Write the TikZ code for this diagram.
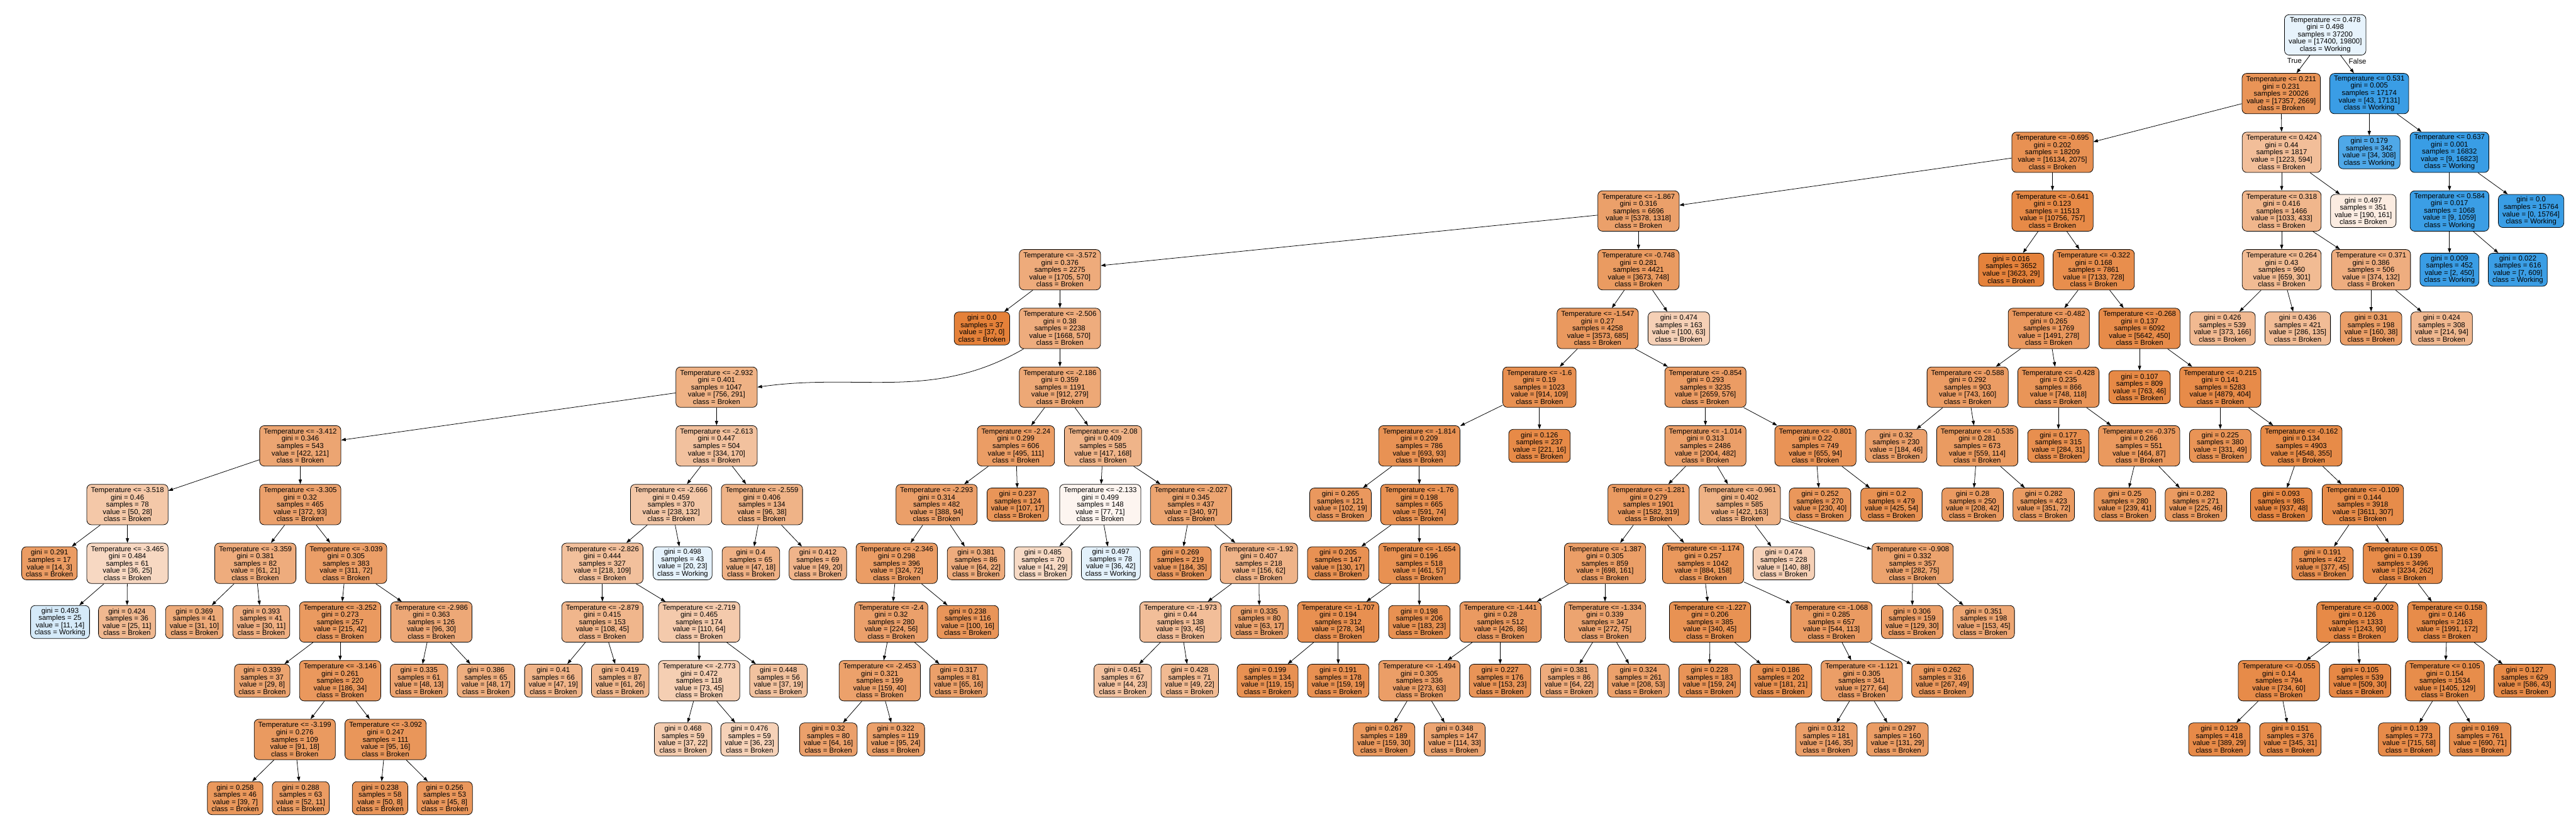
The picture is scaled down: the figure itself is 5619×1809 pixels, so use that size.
\documentclass[tikz,border=0pt]{standalone}
\usepackage{fontspec}
\setmainfont{Liberation Sans}
\usepackage{tikz}
\usetikzlibrary{arrows.meta}

\definecolor{brk}{RGB}{229,129,57}
\definecolor{wrk}{RGB}{57,157,229}
\newcommand\treefont{\fontsize{4.45}{4.5}\selectfont}

% fill and class from the two counts
\newcommand\treecolor[2]{%
  \ifnum#1<#2\relax
    \def\nodecls{Working}%
    \edef\nodefill{wrk!\fpeval{round(100*(#2-#1)/#2,1)}!white}%
  \else
    \def\nodecls{Broken}%
    \edef\nodefill{brk!\fpeval{round(100*(#1-#2)/#1,1)}!white}%
  \fi}
% name, x, rank, threshold, gini, broken, working
\newcommand\splitnode[7]{\treecolor{#6}{#7}%
  \node[splitbox, fill=\nodefill] (#1) at (#2, {76+128*#3})
    {Temperature <= #4\\gini = #5\\samples = \fpeval{#6+#7}\\value = [#6, #7]\\class = \nodecls};}
% name, x, rank, gini, broken, working
\newcommand\leafnode[6]{\treecolor{#5}{#6}%
  \node[leafbox, fill=\nodefill] (#1) at (#2, {76+128*#3})
    {gini = #4\\samples = \fpeval{#5+#6}\\value = [#5, #6]\\class = \nodecls};}

\begin{document}
\begin{tikzpicture}[x=0.01cm, y=-0.01cm,
  tbox/.style={draw, line width=0.3pt, rounded corners=0.1cm, align=center, font=\treefont, inner xsep=0.09cm, inner ysep=0pt},
  splitbox/.style={tbox, minimum height=0.88cm},
  leafbox/.style={tbox, minimum height=0.72cm},
  arr/.style={-{Triangle[length=0.1cm, width=0.07cm]}, line width=0.3pt},
  lab/.style={font=\treefont, inner sep=0.08cm}]
\useasboundingbox (0,0) rectangle (5619,1809);
% rank 0-2
\splitnode{s0478}{5072}{0}{0.478}{0.498}{17400}{19800}
\splitnode{s0211}{4976}{1}{0.211}{0.231}{17357}{2669}
\splitnode{s0531}{5168}{1}{0.531}{0.005}{43}{17131}
\splitnode{sm0695}{4477}{2}{-0.695}{0.202}{16134}{2075}
\splitnode{s0424}{4977}{2}{0.424}{0.44}{1223}{594}
\leafnode{s0531L}{5168}{2}{0.179}{34}{308}
\splitnode{s0637}{5343}{2}{0.637}{0.001}{9}{16823}
% rank 3
\splitnode{sm1867}{3574}{3}{-1.867}{0.316}{5378}{1318}
\splitnode{sm0641}{4477}{3}{-0.641}{0.123}{10756}{757}
\splitnode{s0318}{4977}{3}{0.318}{0.416}{1033}{433}
\leafnode{s0424R}{5155}{3}{0.497}{190}{161}
\splitnode{s0584}{5343}{3}{0.584}{0.017}{9}{1059}
\leafnode{s0637R}{5521}{3}{0.0}{0}{15764}
% rank 4
\splitnode{sm3572}{2312}{4}{-3.572}{0.376}{1705}{570}
\splitnode{sm0748}{3574}{4}{-0.748}{0.281}{3673}{748}
\leafnode{sm0641L}{4387}{4}{0.016}{3623}{29}
\splitnode{sm0322}{4567}{4}{-0.322}{0.168}{7133}{728}
\splitnode{s0264}{4977}{4}{0.264}{0.43}{659}{301}
\splitnode{s0371}{5172}{4}{0.371}{0.386}{374}{132}
\leafnode{s0584L}{5343}{4}{0.009}{2}{450}
\leafnode{s0584R}{5492}{4}{0.022}{7}{609}
% rank 5
\leafnode{sm3572L}{2142}{5}{0.0}{37}{0}
\splitnode{sm2506}{2312}{5}{-2.506}{0.38}{1668}{570}
\splitnode{sm1547}{3485}{5}{-1.547}{0.27}{3573}{685}
\leafnode{sm0748R}{3662}{5}{0.474}{100}{63}
\splitnode{sm0482}{4469}{5}{-0.482}{0.265}{1491}{278}
\splitnode{sm0268}{4667}{5}{-0.268}{0.137}{5642}{450}
\leafnode{s0264L}{4848}{5}{0.426}{373}{166}
\leafnode{s0264R}{5012}{5}{0.436}{286}{135}
\leafnode{s0371L}{5172}{5}{0.31}{160}{38}
\leafnode{s0371R}{5326}{5}{0.424}{214}{94}
% rank 6
\splitnode{sm2932}{1563}{6}{-2.932}{0.401}{756}{291}
\splitnode{sm2186}{2312}{6}{-2.186}{0.359}{912}{279}
\splitnode{sm1600}{3358}{6}{-1.6}{0.19}{914}{109}
\splitnode{sm0854}{3720}{6}{-0.854}{0.293}{2659}{576}
\splitnode{sm0588}{4292}{6}{-0.588}{0.292}{743}{160}
\splitnode{sm0428}{4490}{6}{-0.428}{0.235}{748}{118}
\leafnode{sm0268L}{4667}{6}{0.107}{763}{46}
\splitnode{sm0215}{4843}{6}{-0.215}{0.141}{4879}{404}
% rank 7
\splitnode{sm3412}{655}{7}{-3.412}{0.346}{422}{121}
\splitnode{sm2613}{1563}{7}{-2.613}{0.447}{334}{170}
\splitnode{sm2240}{2216}{7}{-2.24}{0.299}{495}{111}
\splitnode{sm2080}{2406}{7}{-2.08}{0.409}{417}{168}
\splitnode{sm1814}{3096}{7}{-1.814}{0.209}{693}{93}
\leafnode{sm1600R}{3358}{7}{0.126}{221}{16}
\splitnode{sm1014}{3720}{7}{-1.014}{0.313}{2004}{482}
\splitnode{sm0801}{3960}{7}{-0.801}{0.22}{655}{94}
\leafnode{sm0588L}{4136}{7}{0.32}{184}{46}
\splitnode{sm0535}{4313}{7}{-0.535}{0.281}{559}{114}
\leafnode{sm0428L}{4490}{7}{0.177}{284}{31}
\splitnode{sm0375}{4666}{7}{-0.375}{0.266}{464}{87}
\leafnode{sm0215L}{4843}{7}{0.225}{331}{49}
\splitnode{sm0162}{5020}{7}{-0.162}{0.134}{4548}{355}
% rank 8
\splitnode{sm3518}{278}{8}{-3.518}{0.46}{50}{28}
\splitnode{sm3305}{655}{8}{-3.305}{0.32}{372}{93}
\splitnode{sm2666}{1464}{8}{-2.666}{0.459}{238}{132}
\splitnode{sm2559}{1662}{8}{-2.559}{0.406}{96}{38}
\splitnode{sm2293}{2043}{8}{-2.293}{0.314}{388}{94}
\leafnode{sm2240R}{2220}{8}{0.237}{107}{17}
\splitnode{sm2133}{2400}{8}{-2.133}{0.499}{77}{71}
\splitnode{sm2027}{2598}{8}{-2.027}{0.345}{340}{97}
\leafnode{sm1814L}{2924}{8}{0.265}{102}{19}
\splitnode{sm1760}{3096}{8}{-1.76}{0.198}{591}{74}
\splitnode{sm1281}{3596}{8}{-1.281}{0.279}{1582}{319}
\splitnode{sm0961}{3795}{8}{-0.961}{0.402}{422}{163}
\leafnode{sm0801L}{3970}{8}{0.252}{230}{40}
\leafnode{sm0801R}{4126}{8}{0.2}{425}{54}
\leafnode{sm0535L}{4303}{8}{0.28}{208}{42}
\leafnode{sm0535R}{4458}{8}{0.282}{351}{72}
\leafnode{sm0375L}{4635}{8}{0.25}{239}{41}
\leafnode{sm0375R}{4790}{8}{0.282}{225}{46}
\leafnode{sm0162L}{4976}{8}{0.093}{937}{48}
\splitnode{sm0109}{5154}{8}{-0.109}{0.144}{3611}{307}
% rank 9
\leafnode{sm3518L}{108}{9}{0.291}{14}{3}
\splitnode{sm3465}{278}{9}{-3.465}{0.484}{36}{25}
\splitnode{sm3359}{557}{9}{-3.359}{0.381}{61}{21}
\splitnode{sm3039}{755}{9}{-3.039}{0.305}{311}{72}
\splitnode{sm2826}{1314}{9}{-2.826}{0.444}{218}{109}
\leafnode{sm2666R}{1489}{9}{0.498}{20}{23}
\leafnode{sm2559L}{1638}{9}{0.4}{47}{18}
\leafnode{sm2559R}{1784}{9}{0.412}{49}{20}
\splitnode{sm2346}{1956}{9}{-2.346}{0.298}{324}{72}
\leafnode{sm2293R}{2129}{9}{0.381}{64}{22}
\leafnode{sm2133L}{2275}{9}{0.485}{41}{29}
\leafnode{sm2133R}{2423}{9}{0.497}{36}{42}
\leafnode{sm2027L}{2575}{9}{0.269}{184}{35}
\splitnode{sm1920}{2746}{9}{-1.92}{0.407}{156}{62}
\leafnode{sm1760L}{2919}{9}{0.205}{130}{17}
\splitnode{sm1654}{3096}{9}{-1.654}{0.196}{461}{57}
\splitnode{sm1387}{3501}{9}{-1.387}{0.305}{698}{161}
\splitnode{sm1174}{3715}{9}{-1.174}{0.257}{884}{158}
\leafnode{sm0961L}{3891}{9}{0.474}{140}{88}
\splitnode{sm0908}{4172}{9}{-0.908}{0.332}{282}{75}
\leafnode{sm0109L}{5066}{9}{0.191}{377}{45}
\splitnode{s0051}{5241}{9}{0.051}{0.139}{3234}{262}
% rank 10
\leafnode{sm3465L}{131}{10}{0.493}{11}{14}
\leafnode{sm3465R}{277}{10}{0.424}{25}{11}
\leafnode{sm3359L}{424}{10}{0.369}{31}{10}
\leafnode{sm3359R}{570}{10}{0.393}{30}{11}
\splitnode{sm3252}{742}{10}{-3.252}{0.273}{215}{42}
\splitnode{sm2986}{941}{10}{-2.986}{0.363}{96}{30}
\splitnode{sm2879}{1314}{10}{-2.879}{0.415}{108}{45}
\splitnode{sm2719}{1525}{10}{-2.719}{0.465}{110}{64}
\splitnode{sm2400}{1944}{10}{-2.4}{0.32}{224}{56}
\leafnode{sm2346R}{2111}{10}{0.238}{100}{16}
\splitnode{sm1973}{2575}{10}{-1.973}{0.44}{93}{45}
\leafnode{sm1920R}{2747}{10}{0.335}{63}{17}
\splitnode{sm1707}{2919}{10}{-1.707}{0.194}{278}{34}
\leafnode{sm1654R}{3096}{10}{0.198}{183}{23}
\splitnode{sm1441}{3273}{10}{-1.441}{0.28}{426}{86}
\splitnode{sm1334}{3501}{10}{-1.334}{0.339}{272}{75}
\splitnode{sm1227}{3730}{10}{-1.227}{0.206}{340}{45}
\splitnode{sm1068}{3995}{10}{-1.068}{0.285}{544}{113}
\leafnode{sm0908L}{4171}{10}{0.306}{129}{30}
\leafnode{sm0908R}{4327}{10}{0.351}{153}{45}
\splitnode{sm0002}{5142}{10}{-0.002}{0.126}{1243}{90}
\splitnode{s0158}{5338}{10}{0.158}{0.146}{1991}{172}
% rank 11
\leafnode{sm3252L}{572}{11}{0.339}{29}{8}
\splitnode{sm3146}{742}{11}{-3.146}{0.261}{186}{34}
\leafnode{sm2986L}{914}{11}{0.335}{48}{13}
\leafnode{sm2986R}{1060}{11}{0.386}{48}{17}
\leafnode{sm2879L}{1207}{11}{0.41}{47}{19}
\leafnode{sm2879R}{1353}{11}{0.419}{61}{26}
\splitnode{sm2773}{1525}{11}{-2.773}{0.472}{73}{45}
\leafnode{sm2719R}{1698}{11}{0.448}{37}{19}
\splitnode{sm2453}{1919}{11}{-2.453}{0.321}{159}{40}
\leafnode{sm2400R}{2091}{11}{0.317}{65}{16}
\leafnode{sm1973L}{2449}{11}{0.451}{44}{23}
\leafnode{sm1973R}{2595}{11}{0.428}{49}{22}
\leafnode{sm1707L}{2765}{11}{0.199}{119}{15}
\leafnode{sm1707R}{2919}{11}{0.191}{159}{19}
\splitnode{sm1494}{3096}{11}{-1.494}{0.305}{273}{63}
\leafnode{sm1441R}{3272}{11}{0.227}{153}{23}
\leafnode{sm1334L}{3423}{11}{0.381}{64}{22}
\leafnode{sm1334R}{3574}{11}{0.324}{208}{53}
\leafnode{sm1227L}{3729}{11}{0.228}{159}{24}
\leafnode{sm1227R}{3885}{11}{0.186}{181}{21}
\splitnode{sm1121}{4061}{11}{-1.121}{0.305}{277}{64}
\leafnode{sm1068R}{4237}{11}{0.262}{267}{49}
\splitnode{sm0055}{4971}{11}{-0.055}{0.14}{734}{60}
\leafnode{sm0002R}{5148}{11}{0.105}{509}{30}
\splitnode{s0105}{5333}{11}{0.105}{0.154}{1405}{129}
\leafnode{s0158R}{5507}{11}{0.127}{586}{43}
% rank 12-13
\splitnode{sm3199}{643}{12}{-3.199}{0.276}{91}{18}
\splitnode{sm3092}{841}{12}{-3.092}{0.247}{95}{16}
\leafnode{sm2773L}{1490}{12}{0.468}{37}{22}
\leafnode{sm2773R}{1635}{12}{0.476}{36}{23}
\leafnode{sm2453L}{1807}{12}{0.32}{64}{16}
\leafnode{sm2453R}{1954}{12}{0.322}{95}{24}
\leafnode{sm1494L}{3019}{12}{0.267}{159}{30}
\leafnode{sm1494R}{3173}{12}{0.348}{114}{33}
\leafnode{sm1121L}{3984}{12}{0.312}{146}{35}
\leafnode{sm1121R}{4139}{12}{0.297}{131}{29}
\leafnode{sm0055L}{4841}{12}{0.129}{389}{29}
\leafnode{sm0055R}{4996}{12}{0.151}{345}{31}
\leafnode{s0105L}{5255}{12}{0.139}{715}{58}
\leafnode{s0105R}{5410}{12}{0.169}{690}{71}
\leafnode{sm3199L}{513}{13}{0.258}{39}{7}
\leafnode{sm3199R}{656}{13}{0.288}{52}{11}
\leafnode{sm3092L}{829}{13}{0.238}{50}{8}
\leafnode{sm3092R}{970}{13}{0.256}{45}{8}
% edges
\draw[arr] (s0478) -- node[lab, pos=0.32, left] (lbltrue) {True} (s0211);
\draw[arr] (s0478) -- node[lab, pos=0.32, right] (lblfalse) {False} (s0531);
\draw[arr] (sm2506.south west) ++(0.1cm,0) to[out=-150, in=8] (sm2932.east);
\foreach \p/\c in {s0211/sm0695, s0211/s0424, s0531/s0531L, s0531/s0637,
  sm0695/sm1867, sm0695/sm0641, s0424/s0318, s0424/s0424R, s0637/s0584, s0637/s0637R,
  sm1867/sm3572, sm1867/sm0748, sm0641/sm0641L, sm0641/sm0322, s0318/s0264, s0318/s0371, s0584/s0584L, s0584/s0584R,
  sm3572/sm3572L, sm3572/sm2506, sm0748/sm1547, sm0748/sm0748R, sm0322/sm0482, sm0322/sm0268,
  s0264/s0264L, s0264/s0264R, s0371/s0371L, s0371/s0371R,
  sm2506/sm2186, sm1547/sm1600, sm1547/sm0854, sm0482/sm0588, sm0482/sm0428, sm0268/sm0268L, sm0268/sm0215,
  sm2932/sm3412, sm2932/sm2613, sm2186/sm2240, sm2186/sm2080, sm1600/sm1814, sm1600/sm1600R, sm0854/sm1014, sm0854/sm0801,
  sm0588/sm0588L, sm0588/sm0535, sm0428/sm0428L, sm0428/sm0375, sm0215/sm0215L, sm0215/sm0162,
  sm3412/sm3518, sm3412/sm3305, sm2613/sm2666, sm2613/sm2559, sm2240/sm2293, sm2240/sm2240R, sm2080/sm2133, sm2080/sm2027,
  sm1814/sm1814L, sm1814/sm1760, sm1014/sm1281, sm1014/sm0961, sm0801/sm0801L, sm0801/sm0801R, sm0535/sm0535L, sm0535/sm0535R,
  sm0375/sm0375L, sm0375/sm0375R, sm0162/sm0162L, sm0162/sm0109,
  sm3518/sm3518L, sm3518/sm3465, sm3305/sm3359, sm3305/sm3039, sm2666/sm2826, sm2666/sm2666R, sm2559/sm2559L, sm2559/sm2559R,
  sm2293/sm2346, sm2293/sm2293R, sm2133/sm2133L, sm2133/sm2133R, sm2027/sm2027L, sm2027/sm1920, sm1760/sm1760L, sm1760/sm1654,
  sm1281/sm1387, sm1281/sm1174, sm0961/sm0961L, sm0961/sm0908, sm0109/sm0109L, sm0109/s0051,
  sm3465/sm3465L, sm3465/sm3465R, sm3359/sm3359L, sm3359/sm3359R, sm3039/sm3252, sm3039/sm2986, sm2826/sm2879, sm2826/sm2719,
  sm2346/sm2400, sm2346/sm2346R, sm1920/sm1973, sm1920/sm1920R, sm1654/sm1707, sm1654/sm1654R, sm1387/sm1441, sm1387/sm1334,
  sm1174/sm1227, sm1174/sm1068, sm0908/sm0908L, sm0908/sm0908R, s0051/sm0002, s0051/s0158,
  sm3252/sm3252L, sm3252/sm3146, sm2986/sm2986L, sm2986/sm2986R, sm2879/sm2879L, sm2879/sm2879R, sm2719/sm2773, sm2719/sm2719R,
  sm2400/sm2453, sm2400/sm2400R, sm1973/sm1973L, sm1973/sm1973R, sm1707/sm1707L, sm1707/sm1707R, sm1441/sm1494, sm1441/sm1441R,
  sm1334/sm1334L, sm1334/sm1334R, sm1227/sm1227L, sm1227/sm1227R, sm1068/sm1121, sm1068/sm1068R, sm0002/sm0055, sm0002/sm0002R,
  s0158/s0105, s0158/s0158R,
  sm3146/sm3199, sm3146/sm3092, sm2773/sm2773L, sm2773/sm2773R, sm2453/sm2453L, sm2453/sm2453R, sm1494/sm1494L, sm1494/sm1494R,
  sm1121/sm1121L, sm1121/sm1121R, sm0055/sm0055L, sm0055/sm0055R, s0105/s0105L, s0105/s0105R,
  sm3199/sm3199L, sm3199/sm3199R, sm3092/sm3092L, sm3092/sm3092R}
  \draw[arr] (\p) -- (\c);
\end{tikzpicture}
\end{document}
